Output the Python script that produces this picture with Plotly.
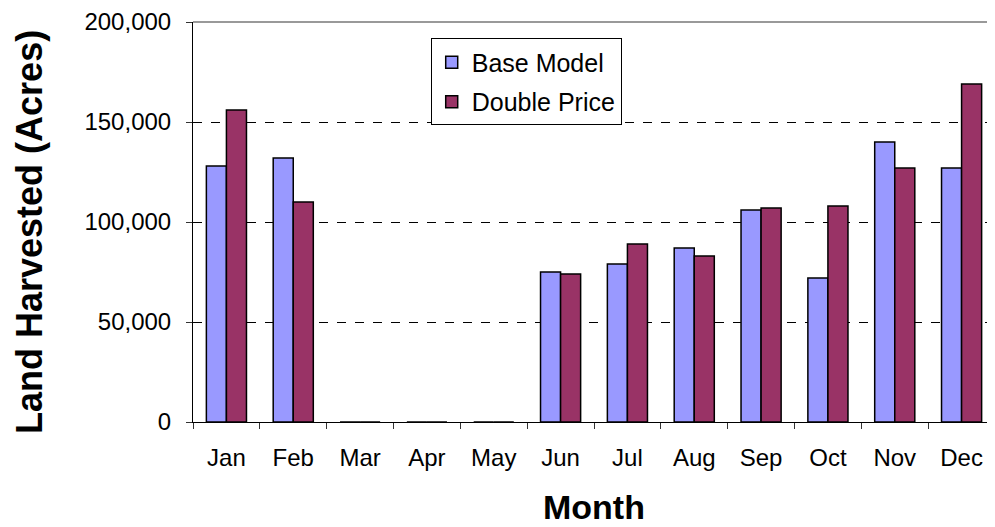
import plotly.graph_objects as go

months = ['Jan', 'Feb', 'Mar', 'Apr', 'May', 'Jun', 'Jul', 'Aug', 'Sep', 'Oct', 'Nov', 'Dec']
base_model = [128000, 132000, 0, 0, 0, 75000, 79000, 87000, 106000, 72000, 140000, 127000]
double_price = [156000, 110000, 0, 0, 0, 74000, 89000, 83000, 107000, 108000, 127000, 169000]
y_ticks = [0, 50000, 100000, 150000, 200000]

FONT = 'Liberation Sans, Arial, sans-serif'

fig = go.Figure()

fig.add_trace(go.Bar(
    x=months, y=base_model, name='Base Model',
    marker=dict(color='#9999FF', line=dict(color='black', width=1.5)),
    legendgroup='a'
))
fig.add_trace(go.Bar(
    x=months, y=double_price, name='Double Price',
    marker=dict(color='#993366', line=dict(color='black', width=1.5)),
    legendgroup='b'
))

# page body has an 8px margin, so the figure is sized to end at the window edge
fig.update_layout(
    width=987, height=519,
    margin=dict(l=185, r=0, t=14, b=105),
    paper_bgcolor='white', plot_bgcolor='white',
    font=dict(family=FONT, size=24, color='black'),
    barmode='group', bargap=0.4, bargroupgap=0,
    showlegend=True,
    legend=dict(
        x=0.2964, y=0.959, xanchor='left', yanchor='top',
        bgcolor='white', bordercolor='black', borderwidth=1,
        font=dict(size=25), tracegroupgap=4,
    ),
    xaxis=dict(
        type='category', tickson='boundaries',
        ticks='outside', ticklen=6, tickcolor='#333',
        showline=True, linecolor='black', linewidth=1,
        showgrid=False, ticklabelstandoff=14,
    ),
    yaxis=dict(
        range=[0, 200000], tickvals=y_ticks, tickformat=',',
        ticks='outside', ticklen=6, tickcolor='#333',
        showline=True, linecolor='black', linewidth=1,
        showgrid=True, gridcolor='black', griddash='dash', gridwidth=1,
        zeroline=False, ticklabelstandoff=10,
    ),
    shapes=[dict(type='line', xref='paper', yref='paper', x0=0, x1=1, y0=1, y1=1,
                 line=dict(color='#999999', width=2))],
    annotations=[
        dict(text='<b>Land Harvested (Acres)</b>', textangle=-90,
             xref='paper', yref='paper', x=-0.2045, y=0.475,
             xanchor='center', yanchor='middle', showarrow=False,
             font=dict(size=36, family=FONT)),
        dict(text='<b>Month</b>', xref='paper', yref='paper',
             x=0.5, y=-0.212,
             xanchor='center', yanchor='middle', showarrow=False,
             font=dict(size=34, family=FONT)),
    ],
)

fig.write_html('out.html')
